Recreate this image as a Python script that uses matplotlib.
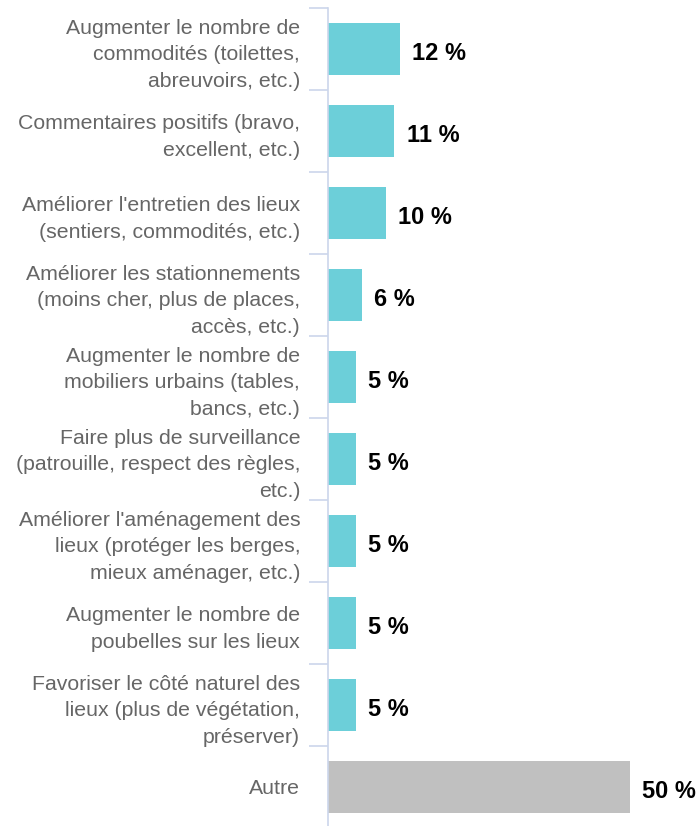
import matplotlib.pyplot as plt
import numpy as np

categories = [
    "Augmenter le nombre de\ncommodités (toilettes,\nabreuvoirs, etc.)",
    "Commentaires positifs (bravo,\nexcellent, etc.)",
    "Améliorer l'entretien des lieux\n(sentiers, commodités, etc.)",
    "Améliorer les stationnements\n(moins cher, plus de places,\naccès, etc.)",
    "Augmenter le nombre de\nmobiliers urbains (tables,\nbancs, etc.)",
    "Faire plus de surveillance\n(patrouille, respect des règles,\netc.)",
    "Améliorer l'aménagement des\nlieux (protéger les berges,\nmieux aménager, etc.)",
    "Augmenter le nombre de\npoubelles sur les lieux",
    "Favoriser le côté naturel des\nlieux (plus de végétation,\npréserver)",
    "Autre",
]
values = [11.9, 11.0, 9.6, 5.6, 4.6, 4.6, 4.6, 4.6, 4.6, 50.0]
labels = ["12 %", "11 %", "10 %", "6 %", "5 %", "5 %", "5 %", "5 %", "5 %", "50 %"]
colors = ["#6ccfd9"] * 9 + ["#c0c0c0"]

plt.rcParams['font.family'] = ['Liberation Sans', 'DejaVu Sans']

fig = plt.figure(figsize=(6.99, 8.26), dpi=100)
ax = fig.add_axes([328 / 699, -2 / 826, 371 / 699, 820 / 826])

y = np.arange(len(categories))
ax.barh(y, values, height=0.63, color=colors, zorder=2)

for yi, v, lab in zip(y, values, labels):
    ax.text(v + 2.0, yi + 0.05, lab, va='center', ha='left', fontsize=17,
            fontweight='bold', color='black')

ax.set_xlim(0, 61.4)
ax.set_ylim(len(categories) - 0.5, -0.5)

for s in ['top', 'right', 'bottom']:
    ax.spines[s].set_visible(False)
ax.spines['left'].set_color('#ccd6eb')
ax.spines['left'].set_linewidth(1.2)
ax.set_xticks([])

ax.set_yticks(y)
ax.set_yticklabels(categories, fontsize=15.3, color='#666666', linespacing=1.53)
ax.tick_params(axis='y', which='major', length=0, pad=20)
ax.set_yticks(np.arange(-0.5, len(categories), 1), minor=True)
ax.tick_params(axis='y', which='minor', length=14, width=1.2, color='#ccd6eb')

fig.savefig('out.png', dpi=100)
